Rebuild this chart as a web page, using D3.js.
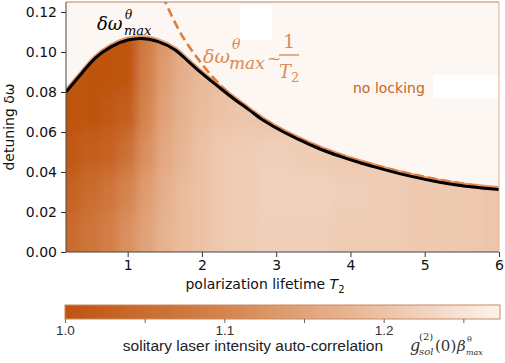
<!DOCTYPE html>
<html>
<head>
<meta charset="utf-8">
<script src="https://cdn.jsdelivr.net/npm/d3@7"></script>
<style>
  body { margin: 0; background: #fff; }
  text { font-family: "DejaVu Sans", sans-serif; }
</style>
</head>
<body>
<div id="root"></div>
<script>
// heat map columns (T2) and rows (detuning), values g2
const t2Centers = [0.25, 0.5, 0.75, 1.0, 1.25, 1.5, 1.75, 2.0, 2.25, 2.5, 3.0, 3.5, 4.0, 4.5, 5.0, 5.5, 6.0];
const dwCenters = [0.01, 0.03, 0.05, 0.07, 0.09, 0.11];
const g2Row001 = [1.05, 1.07, 1.09, 1.12, 1.15, 1.175, 1.19, 1.2, 1.21, 1.215, 1.22, 1.22, 1.215, 1.215, 1.21, 1.21, 1.205];
const g2Row003 = [1.03, 1.05, 1.07, 1.1, 1.14, 1.17, 1.19, 1.2, 1.21, 1.215, 1.225, 1.225, 1.22, 1.215, 1.21, 1.21, 1.205];
const g2Row005 = [1.01, 1.02, 1.03, 1.06, 1.12, 1.16, 1.18, 1.2, 1.21, 1.215, 1.22, 1.215, 1.21, null, null, null, null];
const g2Row007 = [1.0, 1.0, 1.01, 1.02, 1.1, 1.15, 1.175, 1.19, 1.2, 1.205, 1.2, null, null, null, null, null, null];
const g2Row009 = [1.0, 1.0, 1.0, 1.0, 1.09, 1.14, 1.17, 1.185, 1.19, null, null, null, null, null, null, null, null];
const g2Row011 = [null, null, 1.0, 1.0, 1.08, 1.13, null, null, null, null, null, null, null, null, null, null, null];

// locking boundary (black line)
const edgeT2 = [0.17, 0.38, 0.56, 0.78, 1.0, 1.17, 1.41, 1.64, 1.82, 2.0, 2.22, 2.45, 2.63, 2.81, 3.0, 3.3, 3.59, 3.86, 4.13, 4.31, 4.76, 5.2, 5.65, 6.0];
const edgeDw = [0.08, 0.0893, 0.0968, 0.1027, 0.106, 0.1068, 0.1052, 0.101, 0.0952, 0.0893, 0.0827, 0.076, 0.0712, 0.0662, 0.062, 0.0563, 0.0515, 0.0478, 0.0446, 0.0427, 0.0383, 0.0349, 0.0325, 0.0312];
// 1/T2 guide (dashed)
const guideT2 = [1.47, 1.69, 2.0, 2.5, 3.0, 3.5, 4.0, 4.5, 5.0, 5.5, 6.0];
const guideDw = [0.128, 0.111, 0.094, 0.075, 0.0627, 0.0537, 0.047, 0.0418, 0.0376, 0.0342, 0.0313];

const xTicks = [1, 2, 3, 4, 5, 6];
const yTicks = [0, 0.02, 0.04, 0.06, 0.08, 0.1, 0.12];
const cbTicks = [1.0, 1.05, 1.1, 1.15, 1.2, 1.25];
const cbLabels = ["1.0", "", "1.1", "", "1.2", ""];
const cmapVals = [1.0, 1.1, 1.2, 1.273];
const cmapCols = ["#bf5410", "#d5844d", "#ecc2a6", "#fcf2eb"];

let svg = d3.select("#root").append("svg").attr("width", 505).attr("height", 363);
let defs = svg.append("defs");

let x = d3.scaleLinear().domain([0.17, 6]).range([66, 499]);
let y = d3.scaleLinear().domain([0, 0.125]).range([252, 2]);
let color = d3.scaleLinear().domain(cmapVals).range(cmapCols).clamp(true);

// background ("no locking")
svg.append("rect").attr("x", 66).attr("y", 2).attr("width", 433).attr("height", 250).attr("fill", "#fdf7f3");
svg.append("rect").attr("x", 240).attr("y", 5).attr("width", 32).attr("height", 35).attr("fill", "#fff");
svg.append("rect").attr("x", 433).attr("y", 75).attr("width", 65).attr("height", 23).attr("fill", "#fff");

// clip: region under boundary
let edgePts = edgeT2.map((t, i) => [t, edgeDw[i]]);
let area = d3.area().curve(d3.curveMonotoneX).x(d => x(d[0])).y0(y(0)).y1(d => y(d[1]));
defs.append("clipPath").attr("id", "under").append("path").datum(edgePts).attr("d", area);
defs.append("clipPath").attr("id", "plot").append("rect")
  .attr("x", 66).attr("y", 2).attr("width", 433).attr("height", 250);

let blur = defs.append("filter").attr("id", "blur").attr("filterUnits", "userSpaceOnUse")
  .attr("x", 0).attr("y", 0).attr("width", 505).attr("height", 363);
blur.append("feGaussianBlur").attr("in", "SourceGraphic").attr("stdDeviation", "5 10");

// build cells; empty cells above the boundary take the value below them
let rows = [g2Row001, g2Row003, g2Row005, g2Row007, g2Row009, g2Row011];
let cells = [];
rows.forEach((row, j) => {
  row.forEach((v, i) => {
    let k = j;
    while (rows[k][i] == null) k--;
    let x0 = i == 0 ? 0 : (t2Centers[i - 1] + t2Centers[i]) / 2;
    let x1 = i == t2Centers.length - 1 ? 7 : (t2Centers[i] + t2Centers[i + 1]) / 2;
    let y0 = j == 0 ? -0.02 : dwCenters[j] - 0.01;
    let y1 = j == rows.length - 1 ? 0.15 : dwCenters[j] + 0.01;
    cells.push({ x0, x1, y0, y1, v: rows[k][i] });
  });
});

let heat = svg.append("g").attr("clip-path", "url(#under)")
  .append("g").attr("filter", "url(#blur)");
heat.selectAll("rect").data(cells).enter().append("rect")
  .attr("x", d => x(d.x0)).attr("width", d => x(d.x1) - x(d.x0) + 0.5)
  .attr("y", d => y(d.y1)).attr("height", d => y(d.y0) - y(d.y1) + 0.5)
  .attr("fill", d => color(d.v));

let line = d3.line().curve(d3.curveMonotoneX).x(d => x(d[0])).y(d => y(d[1]));
let lines = svg.append("g").attr("clip-path", "url(#plot)");
// staircase edge of the top cells
lines.append("path").datum(edgePts).attr("d", line)
  .attr("transform", "translate(0,-2)")
  .attr("fill", "none").attr("stroke", "#dc8550").attr("stroke-width", 3).attr("opacity", 0.8);
lines.append("path").datum(guideT2.map((t, i) => [t, guideDw[i]])).attr("d", line)
  .attr("fill", "none").attr("stroke", "#e07c3e").attr("stroke-width", 2.6)
  .attr("stroke-dasharray", "9,4.5");
lines.append("path").datum(edgePts).attr("d", line)
  .attr("fill", "none").attr("stroke", "#000").attr("stroke-width", 3);

// axes
let xAxisG = svg.append("g").attr("transform", "translate(0,252)")
  .call(d3.axisBottom(x).tickValues(xTicks).tickSize(5).tickPadding(3).tickFormat(d3.format("d")));
let yAxisG = svg.append("g").attr("transform", "translate(66,0)")
  .call(d3.axisLeft(y).tickValues(yTicks).tickSize(5).tickPadding(4).tickFormat(d3.format(".2f")));
[xAxisG, yAxisG].forEach(g => {
  g.select(".domain").remove();
  g.selectAll("line").attr("stroke", "#333");
  g.selectAll("text").attr("fill", "#111").style("font-size", "14px").style("font-family", "DejaVu Sans");
});
svg.append("line").attr("x1", 66).attr("x2", 66).attr("y1", 2).attr("y2", 252).attr("stroke", "#444");
svg.append("line").attr("x1", 66).attr("x2", 499).attr("y1", 252).attr("y2", 252).attr("stroke", "#444");
svg.append("line").attr("x1", 66).attr("x2", 499).attr("y1", 2).attr("y2", 2).attr("stroke", "#b8815c");
svg.append("line").attr("x1", 499).attr("x2", 499).attr("y1", 2).attr("y2", 252).attr("stroke", "#e3b08d");

// axis titles
svg.append("text").attr("transform", "translate(14,127) rotate(-90)").attr("text-anchor", "middle")
  .style("font-size", "14px").attr("fill", "#111").text("detuning δω");
let xl = svg.append("text").attr("x", 265).attr("y", 289).attr("text-anchor", "middle")
  .style("font-size", "14px").attr("fill", "#111");
xl.append("tspan").text("polarization lifetime ");
xl.append("tspan").style("font-style", "italic").text("T");
xl.append("tspan").attr("dy", 4).style("font-size", "10px").text("2");

// annotations
let serif = (t, px, py, size, fill, italic) => svg.append("text").attr("x", px).attr("y", py)
  .style("font-family", "DejaVu Serif").style("font-size", size + "px")
  .style("font-style", italic ? "italic" : "normal").attr("fill", fill).text(t);
serif("δω", 97, 30, 18, "#000", true);
serif("θ", 125, 19, 12, "#000", true);
serif("max", 124, 35, 13, "#000", true);

let orng = "#d98c58";
serif("δω", 203, 63, 19, orng, true);
serif("θ", 232, 49, 14, orng, true);
serif("max", 229, 69, 17, orng, true);
serif("~", 267, 64, 17, orng, false);
serif("1", 283, 48, 19, orng, false);
svg.append("line").attr("x1", 279).attr("x2", 299).attr("y1", 55).attr("y2", 55)
  .attr("stroke", orng).attr("stroke-width", 1.4);
serif("T", 279, 78, 18, orng, true);
serif("2", 291, 82, 13, orng, false);

svg.append("text").attr("x", 353).attr("y", 93).style("font-size", "14px")
  .attr("fill", "#c9631e").text("no locking");

// colour bar
let cb = d3.scaleLinear().domain([1.0, 1.273]).range([65, 500]);
let grad = defs.append("linearGradient").attr("id", "cbar");
cmapVals.forEach((v, i) => {
  grad.append("stop").attr("offset", (v - 1.0) / 0.273).attr("stop-color", cmapCols[i]);
});
svg.append("rect").attr("x", 65).attr("y", 305).attr("width", 435).attr("height", 14)
  .attr("fill", "url(#cbar)").attr("stroke", "#c98a62").attr("stroke-width", 1);
let cbAxis = svg.append("g").attr("transform", "translate(0,319)")
  .call(d3.axisBottom(cb).tickValues(cbTicks).tickSize(4).tickPadding(2).tickFormat((d, i) => cbLabels[i]));
cbAxis.select(".domain").remove();
cbAxis.selectAll("line").attr("stroke", "#666");
cbAxis.selectAll("text").attr("fill", "#333").style("font-size", "13.5px").style("font-family", "Liberation Sans");

svg.append("text").attr("x", 383).attr("y", 351).attr("text-anchor", "end")
  .style("font-family", "Liberation Sans").style("font-size", "15.5px").attr("fill", "#222")
  .text("solitary laser intensity auto-correlation");
let mc = "#333";
serif("g", 410, 351, 16, mc, true);
serif("(2)", 419, 340, 10, mc, false);
serif("sol", 419, 355, 10, mc, true);
serif("(0)", 435, 351, 15, mc, false);
serif("β", 457, 351, 15, mc, true);
serif("θ", 467, 342, 8, mc, false);
serif("max", 466, 355, 8, mc, true);
</script>
</body>
</html>
